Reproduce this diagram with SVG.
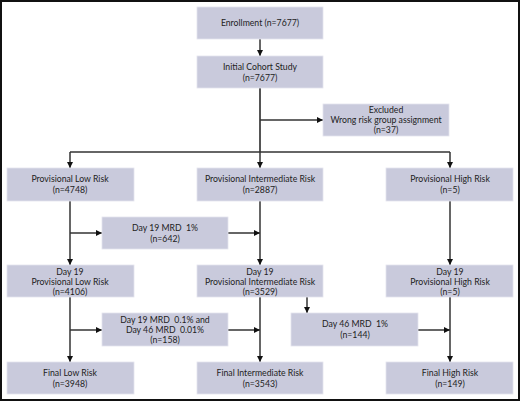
<svg xmlns="http://www.w3.org/2000/svg" width="520" height="402" viewBox="0 0 520 402">
<defs>
<marker id="ah" viewBox="0 0 10 10" refX="10" refY="5" markerWidth="6" markerHeight="6" markerUnits="userSpaceOnUse" orient="auto">
<path d="M0,0 L10,5 L0,10 Z" fill="#111"/>
</marker>
<style>
.box{fill:#c9cadc;stroke:#e4e4ee;stroke-width:0.8}
.t{font-family:"Lato","Liberation Sans",sans-serif;font-size:8.7px;fill:#222;text-anchor:middle}
.ln{fill:none;stroke:#333;stroke-width:1.5}
.ar{fill:none;stroke:#333;stroke-width:1.5;marker-end:url(#ah)}
</style>
</defs>
<rect x="0" y="0" width="520" height="402" fill="#fff"/>
<rect x="1" y="1" width="518" height="399" fill="none" stroke="#111" stroke-width="2"/>
<g id="connectors">
<path class="ar" d="M260,39 V56"/>
<path class="ln" d="M260,88 V152" style="stroke:#555;stroke-width:2"/>
<path class="ar" d="M260,120 H323"/>
<path class="ln" d="M70,152 H450"/>
<path class="ar" d="M70,152 V168"/>
<path class="ar" d="M260,152 V168"/>
<path class="ar" d="M450,152 V168"/>
<path class="ar" d="M70,201 V265"/>
<path class="ar" d="M70,233 H102"/>
<path class="ar" d="M228,233 H260"/>
<path class="ar" d="M260,201 V265"/>
<path class="ar" d="M450,201 V265"/>
<path class="ar" d="M70,297 V362"/>
<path class="ar" d="M70,330 H102"/>
<path class="ar" d="M228,330 H260"/>
<path class="ar" d="M260,297 V362"/>
<path class="ar" d="M307,297 V313"/>
<path class="ar" d="M418,330 H450"/>
<path class="ar" d="M450,297 V362"/>
</g>
<g id="enrollment"><rect class="box" x="197" y="7" width="126" height="32"/><text class="t" x="260" y="26">Enrollment (n=7677)</text></g>
<g id="initial"><rect class="box" x="197" y="56" width="126" height="32"/><text class="t" x="260" y="69.5">Initial Cohort Study</text><text class="t" x="260" y="80.5">(n=7677)</text></g>
<g id="excluded"><rect class="box" x="323" y="104" width="126" height="32"/><text class="t" x="386" y="112.5">Excluded</text><text class="t" x="386" y="123">Wrong risk group assignment</text><text class="t" x="386" y="133">(n=37)</text></g>
<g id="prov-low"><rect class="box" x="7" y="168" width="127" height="33"/><text class="t" x="70" y="182">Provisional Low Risk</text><text class="t" x="70" y="193">(n=4748)</text></g>
<g id="prov-int"><rect class="box" x="197" y="168" width="126" height="33"/><text class="t" x="260" y="182">Provisional Intermediate Risk</text><text class="t" x="260" y="193">(n=2887)</text></g>
<g id="prov-high"><rect class="box" x="386" y="168" width="127" height="33"/><text class="t" x="450" y="182">Provisional High Risk</text><text class="t" x="450" y="193">(n=5)</text></g>
<g id="mrd19"><rect class="box" x="102" y="217" width="126" height="32"/><text class="t" x="165" y="230.5" xml:space="preserve">Day 19 MRD  1%</text><text class="t" x="165" y="241.5">(n=642)</text></g>
<g id="d19-low"><rect class="box" x="7" y="265" width="127" height="32"/><text class="t" x="70" y="274.5">Day 19</text><text class="t" x="70" y="284.5">Provisional Low Risk</text><text class="t" x="70" y="294.5">(n=4106)</text></g>
<g id="d19-int"><rect class="box" x="197" y="265" width="126" height="32"/><text class="t" x="260" y="274.5">Day 19</text><text class="t" x="260" y="284.5">Provisional Intermediate Risk</text><text class="t" x="260" y="294.5">(n=3529)</text></g>
<g id="d19-high"><rect class="box" x="386" y="265" width="127" height="32"/><text class="t" x="450" y="274.5">Day 19</text><text class="t" x="450" y="284.5">Provisional High Risk</text><text class="t" x="450" y="294.5">(n=5)</text></g>
<g id="mrd-low"><rect class="box" x="102" y="313" width="126" height="33"/><text class="t" x="165" y="322.5" xml:space="preserve">Day 19 MRD  0.1% and</text><text class="t" x="165" y="332.5" xml:space="preserve">Day 46 MRD  0.01%</text><text class="t" x="165" y="342.5">(n=158)</text></g>
<g id="mrd46"><rect class="box" x="291" y="313" width="127" height="33"/><text class="t" x="355" y="326.5" xml:space="preserve">Day 46 MRD  1%</text><text class="t" x="355" y="337.5">(n=144)</text></g>
<g id="final-low"><rect class="box" x="7" y="362" width="127" height="32"/><text class="t" x="70" y="375.5">Final Low Risk</text><text class="t" x="70" y="386.5">(n=3948)</text></g>
<g id="final-int"><rect class="box" x="197" y="362" width="126" height="32"/><text class="t" x="260" y="375.5">Final Intermediate Risk</text><text class="t" x="260" y="386.5">(n=3543)</text></g>
<g id="final-high"><rect class="box" x="386" y="362" width="127" height="32"/><text class="t" x="450" y="375.5">Final High Risk</text><text class="t" x="450" y="386.5">(n=149)</text></g>
</svg>
